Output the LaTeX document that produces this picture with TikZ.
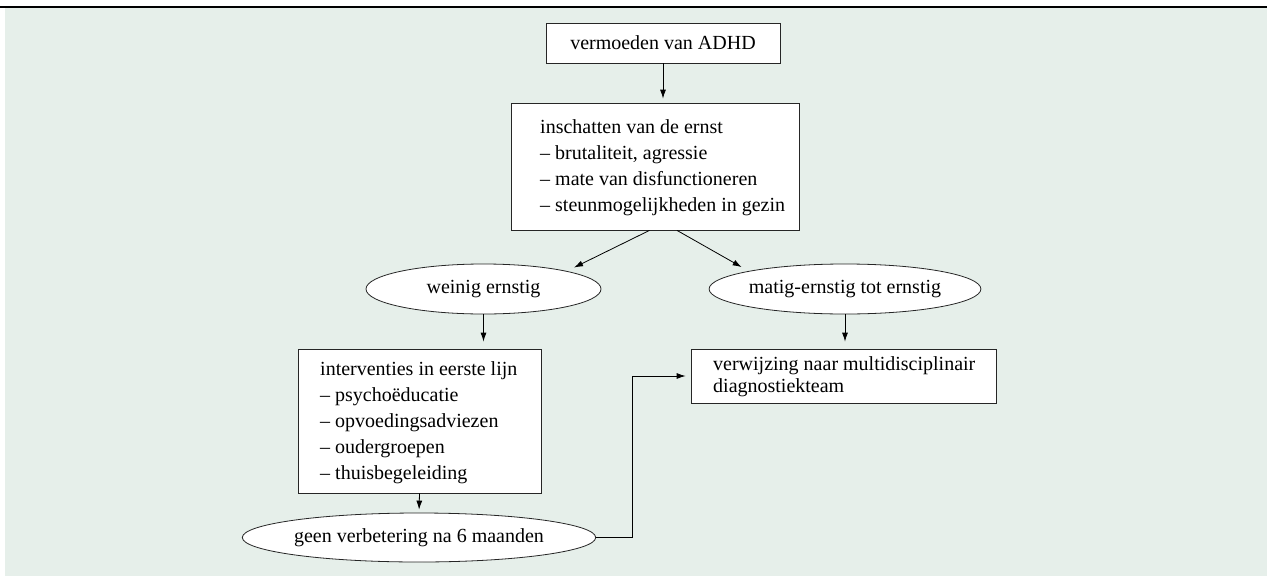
\documentclass[tikz,border=0pt]{standalone}
\usepackage{fontspec}
\setmainfont{Liberation Serif}
\usetikzlibrary{shapes.geometric,arrows.meta}
\definecolor{bgc}{RGB}{230,239,234}
\tikzset{
  box/.style={draw=black!85, line width=0.8pt, fill=white, inner sep=0pt},
  oval/.style={ellipse, draw=black!85, line width=0.8pt, fill=white, inner sep=0pt},
  txt/.style={anchor=base west, inner sep=0pt},
  arr/.style={draw=black, line width=0.8pt, -{Latex[length=9pt,width=6pt]}},
}
\begin{document}
\begin{tikzpicture}[x=1pt,y=-1pt,font=\fontsize{20}{26}\selectfont]
\useasboundingbox (0,0) rectangle (1267,576);
\fill[bgc] (5,8) rectangle (1267,576);
\draw[line width=1.6pt] (0,7) -- (1267,7);

\node[box, minimum width=234pt, minimum height=40pt] (b1) at (663,43) {vermoeden van ADHD};

\node[box, minimum width=288pt, minimum height=127pt] (b2) at (655.5,166.5) {};
\node[txt] (b2t) at (540,133) {\begin{tabular}[t]{@{}l@{}}inschatten van de ernst\\ – brutaliteit, agressie\\ – mate van disfunctioneren\\ – steunmogelijkheden in gezin\end{tabular}};

\node[oval, minimum width=235pt, minimum height=50pt] (w) at (483.5,289) {weinig ernstig};
\node[oval, minimum width=236pt, minimum height=50pt] (m) at (845,289) {matig-ernstig tot ernstig};

\node[box, minimum width=243pt, minimum height=144pt] (b3) at (419.5,421) {};
\node[txt] (b3t) at (320,375) {\begin{tabular}[t]{@{}l@{}}interventies in eerste lijn\\ – psychoëducatie\\ – opvoedingsadviezen\\ – oudergroepen\\ – thuisbegeleiding\end{tabular}};

\node[box, minimum width=305pt, minimum height=54pt] (b4) at (843.5,376) {};
\node[txt] (b4t) at (713,370.5) {\fontsize{20}{22}\selectfont\begin{tabular}[t]{@{}l@{}}verwijzing naar multidisciplinair\\ diagnostiekteam\end{tabular}};

\node[oval, minimum width=344pt, minimum height=49pt] (g) at (419,537.5) {geen verbetering na 6 maanden};

\draw[arr, shorten >=4pt] (b1.south) -- (b1.south |- b2.north);
\draw[arr, shorten >=8pt] ([xshift=-6pt]b2.south) -- (w.north east);
\draw[arr, shorten >=8pt] ([xshift=21.5pt]b2.south) -- (m.north west);
\draw[arr, shorten >=7pt] (w.south) -- (w.south |- b3.north);
\draw[arr, shorten >=7pt] (m.south) -- (m.south |- b4.north);
\draw[arr, shorten >=3pt] (b3.south) -- (g.north);
\draw[arr, shorten >=5pt] (g.east) -- ++(36,0) |- (b4.west);
\end{tikzpicture}
\end{document}
